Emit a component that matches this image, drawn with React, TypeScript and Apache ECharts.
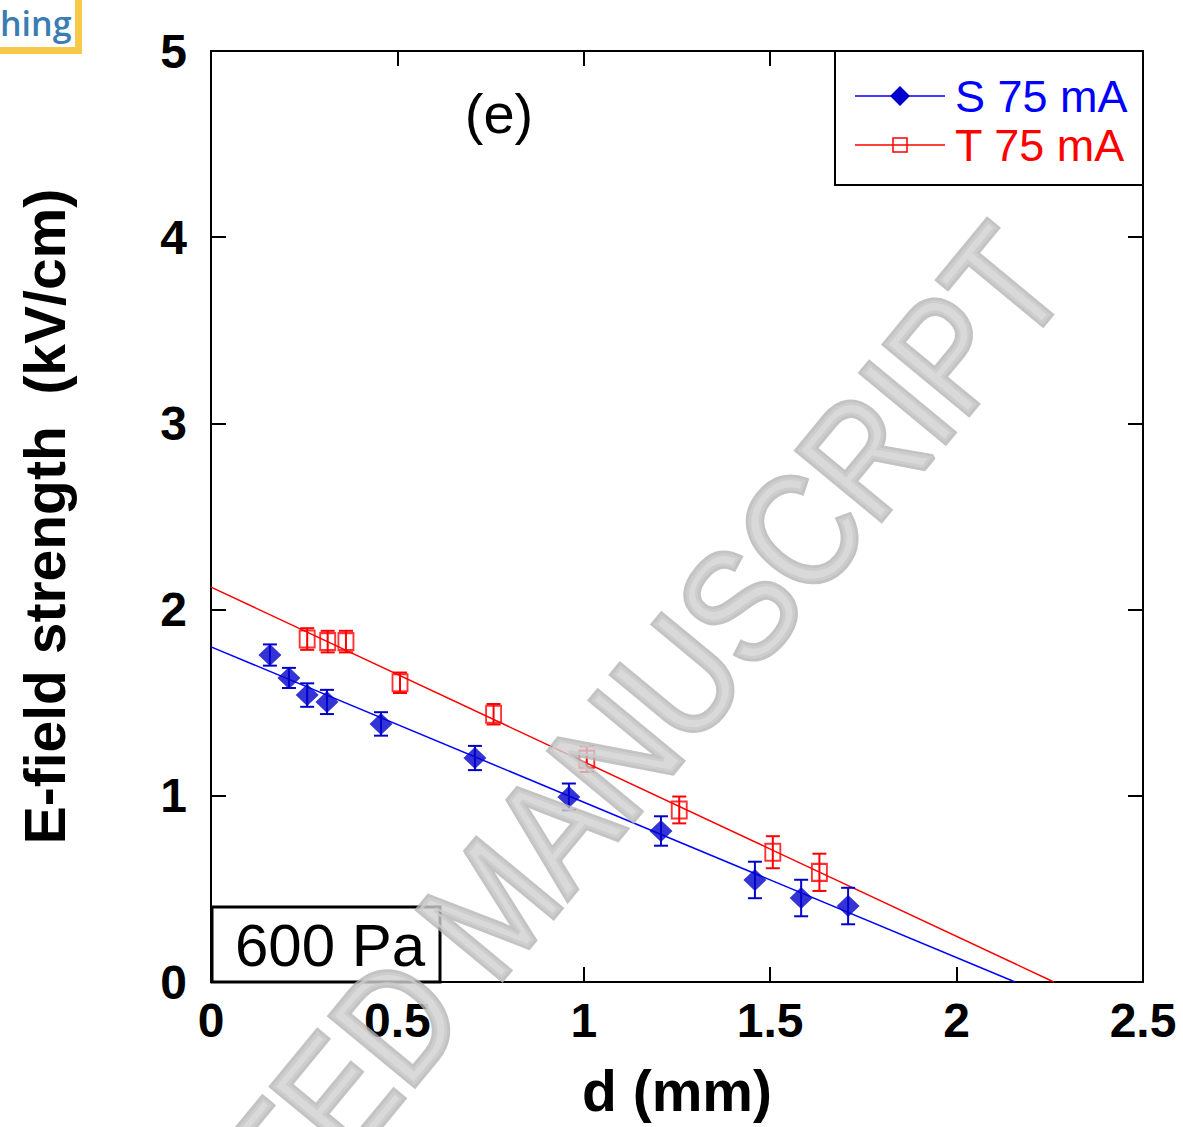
import React, { useEffect, useRef } from "react";
import * as echarts from "echarts";

const sX = [0.158, 0.209, 0.258, 0.311, 0.456, 0.708, 0.96, 1.207, 1.459, 1.583, 1.709];
const sY = [1.756, 1.633, 1.541, 1.504, 1.386, 1.203, 0.994, 0.811, 0.548, 0.451, 0.408];
const sErr = [0.057, 0.054, 0.063, 0.065, 0.063, 0.065, 0.072, 0.079, 0.098, 0.098, 0.098];

const tX = [0.258, 0.313, 0.362, 0.507, 0.758, 1.008, 1.256, 1.507, 1.632];
const tY = [1.842, 1.828, 1.828, 1.607, 1.438, 1.197, 0.924, 0.697, 0.589];
const tErr = [0.058, 0.058, 0.058, 0.055, 0.055, 0.069, 0.072, 0.086, 0.1];

const sFitX = [0, 2.157];
const sFitY = [1.8, 0];
const tFitX = [0, 2.261];
const tFitY = [2.121, 0];

const seriesNames = ["S 75 mA", "T 75 mA"];
const FONT = "'Liberation Sans', Arial, Helvetica, sans-serif";

const BLUE_LINE = "#0000ff";
const BLUE_MARK = "#0000cc";
const RED = "#ff0000";

function zip(xs: number[], ys: number[], es?: number[]) {
  return xs.map((x, i) => (es ? [x, ys[i], es[i]] : [x, ys[i]]));
}

function errorBars(name: string, data: number[][], color: string) {
  return {
    type: "custom",
    name: name + " err",
    xAxisIndex: 0,
    yAxisIndex: 0,
    data,
    z: 3,
    renderItem: (params: any, api: any) => {
      const x = api.value(0);
      const y = api.value(1);
      const e = api.value(2);
      const top = api.coord([x, y + e]);
      const bot = api.coord([x, y - e]);
      const hw = 7;
      const st = { stroke: color, lineWidth: 2 };
      return {
        type: "group",
        children: [
          { type: "line", shape: { x1: top[0], y1: top[1], x2: bot[0], y2: bot[1] }, style: st },
          { type: "line", shape: { x1: top[0] - hw, y1: top[1], x2: top[0] + hw, y2: top[1] }, style: st },
          { type: "line", shape: { x1: bot[0] - hw, y1: bot[1], x2: bot[0] + hw, y2: bot[1] }, style: st },
        ],
      };
    },
  };
}

export default function App() {
  const ref = useRef<HTMLDivElement>(null);
  useEffect(() => {
    document.body.style.margin = "0";
    const chart = echarts.init(ref.current!, null, { renderer: "svg" });
    const axisLine = { show: true, onZero: false, lineStyle: { color: "#000", width: 2 } };
    const axisTick = { show: true, inside: true, length: 15, lineStyle: { color: "#000", width: 2 } };
    const tickFont = { color: "#000", fontSize: 48, fontWeight: "bold" as const, fontFamily: FONT };
    const nameFont = { color: "#000", fontSize: 57, fontWeight: "bold" as const, fontFamily: FONT };

    const option: any = {
      animation: false,
      grid: { left: 211, top: 51, width: 932, height: 931, show: false },
      xAxis: [
        {
          type: "value", min: 0, max: 2.5, interval: 0.5, position: "bottom",
          axisLine, axisTick, splitLine: { show: false },
          axisLabel: { ...tickFont, margin: 14, formatter: (v: number) => String(v) },
          name: "d (mm)", nameLocation: "middle", nameGap: 80, nameTextStyle: nameFont,
        },
        {
          type: "value", min: 0, max: 2.5, interval: 0.5, position: "top",
          axisLine, axisTick, splitLine: { show: false }, axisLabel: { show: false },
        },
      ],
      yAxis: [
        {
          type: "value", min: 0, max: 5, interval: 1, position: "left",
          axisLine, axisTick, splitLine: { show: false },
          axisLabel: { ...tickFont, margin: 24, padding: [0, 0, 10, 0], formatter: (v: number) => String(v) },
          name: "E-field strength  (kV/cm)", nameLocation: "middle", nameGap: 138, nameTextStyle: nameFont,
        },
        {
          type: "value", min: 0, max: 5, interval: 1, position: "right",
          axisLine, axisTick, splitLine: { show: false }, axisLabel: { show: false },
        },
      ],
      series: [
        {
          type: "line", name: seriesNames[0] + " fit", data: zip(sFitX, sFitY),
          showSymbol: false, lineStyle: { color: BLUE_LINE, width: 1.5 }, z: 2, silent: true,
        },
        {
          type: "line", name: seriesNames[1] + " fit", data: zip(tFitX, tFitY),
          showSymbol: false, lineStyle: { color: RED, width: 1.5 }, z: 2, silent: true,
        },
        errorBars(seriesNames[0], zip(sX, sY, sErr), BLUE_MARK),
        errorBars(seriesNames[1], zip(tX, tY, tErr), RED),
        {
          type: "scatter", name: seriesNames[0], data: zip(sX, sY), symbol: "diamond",
          symbolSize: [23, 22], itemStyle: { color: BLUE_MARK }, z: 4,
        },
        {
          type: "scatter", name: seriesNames[1], data: zip(tX, tY), symbol: "rect",
          symbolSize: [15, 17], itemStyle: { color: "rgba(0,0,0,0)", borderColor: RED, borderWidth: 2 }, z: 4,
        },
      ],
      graphic: [
        // logo fragment
        { type: "rect", shape: { x: 0, y: 0, width: 82, height: 54 }, style: { fill: "#f7c948" }, z: 50 },
        { type: "rect", shape: { x: 0, y: 0, width: 75, height: 47 }, style: { fill: "#ffffff" }, z: 51 },
        {
          type: "text", x: 0, y: 40, z: 52,
          style: { text: "hing", fill: "#3a7db3", font: "600 34px 'Open Sans', 'Noto Sans', sans-serif", textVerticalAlign: "bottom" },
        },
        // panel label
        {
          type: "text", x: 499, y: 113, z: 20,
          style: { text: "(e)", fill: "#000", font: `56px ${FONT}`, textAlign: "center", textVerticalAlign: "middle" },
        },
        // legend box
        { type: "rect", shape: { x: 835, y: 51, width: 308, height: 134 }, style: { fill: "#fff", stroke: "#000", lineWidth: 2 }, z: 20 },
        { type: "line", shape: { x1: 855, y1: 96, x2: 945, y2: 96 }, style: { stroke: BLUE_LINE, lineWidth: 1.5 }, z: 21 },
        { type: "polygon", shape: { points: [[900, 86], [910, 96], [900, 106], [890, 96]] }, style: { fill: BLUE_MARK }, z: 22 },
        {
          type: "text", x: 955, y: 96, z: 22,
          style: { text: seriesNames[0], fill: BLUE_LINE, font: `45px ${FONT}`, textVerticalAlign: "middle" },
        },
        { type: "line", shape: { x1: 855, y1: 145, x2: 945, y2: 145 }, style: { stroke: RED, lineWidth: 1.5 }, z: 21 },
        { type: "rect", shape: { x: 893, y: 138, width: 14, height: 14 }, style: { fill: "rgba(0,0,0,0)", stroke: RED, lineWidth: 1.5 }, z: 22 },
        {
          type: "text", x: 955, y: 145, z: 22,
          style: { text: seriesNames[1], fill: RED, font: `45px ${FONT}`, textVerticalAlign: "middle" },
        },
        // pressure box
        { type: "rect", shape: { x: 212, y: 907, width: 228, height: 75 }, style: { fill: "#fff", stroke: "#000", lineWidth: 3 }, z: 20 },
        {
          type: "text", x: 330, y: 945, z: 21,
          style: { text: "600 Pa", fill: "#000", font: `60px ${FONT}`, textAlign: "center", textVerticalAlign: "middle" },
        },
        // watermark
        {
          type: "text", x: 1031, y: 252, rotation: 0.88, scaleX: 0.87, z: 100,
          style: {
            text: "ACCEPTED MANUSCRIPT", fill: "#d0d0d0", stroke: "#b4b4b4", lineWidth: 6,
            font: `158px ${FONT}`, textAlign: "right", textVerticalAlign: "middle", opacity: 0.8,
          },
        },
      ],
    };
    chart.setOption(option);
    return () => chart.dispose();
  }, []);
  return <div ref={ref} style={{ width: 1183, height: 1127 }} />;
}
